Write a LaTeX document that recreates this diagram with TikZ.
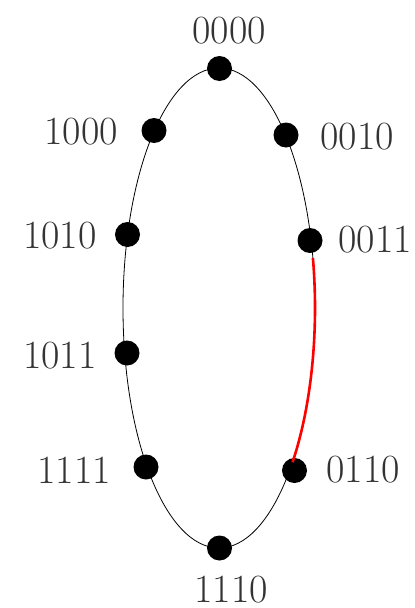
\documentclass[tikz,border=0pt]{standalone}
\usetikzlibrary{calc}
\begin{document}
\begin{tikzpicture}[x=1pt,y=-1pt,
  dot/.style={circle,fill=black,inner sep=0pt,minimum size=25pt},
  lab/.style={text=black!80,font=\fontsize{40}{42}\selectfont,inner sep=0pt}]
\useasboundingbox (0,0) rectangle (415,608);
\draw[line width=0.8pt] (219,308) ellipse [x radius=96, y radius=240];
\node[dot] (a) at (219.5,68.5) {};
\node[dot] (b) at (286,135) {};
\node[dot] (c) at (310,240.5) {};
\node[dot] (d) at (294.5,470.5) {};
\node[dot] (e) at (219.5,548) {};
\node[dot] (f) at (146,467) {};
\node[dot] (g) at (127,353) {};
\node[dot] (h) at (127.5,234.5) {};
\node[dot] (i) at (154,130.5) {};
\draw[red,line width=2.6pt] ($(219,308)+(-12:96 and 240)$) arc [start angle=-12, end angle=40, x radius=96, y radius=240];
\node[lab] (la) at (229,31) {0000};
\node[lab] (lb) at (357,137) {0010};
\node[lab] (lc) at (375,240) {0011};
\node[lab] (ld) at (363,470) {0110};
\node[lab] (le) at (231,590) {1110};
\node[lab] (lf) at (74,470) {1111};
\node[lab] (lg) at (60,356) {1011};
\node[lab] (lh) at (60,236) {1010};
\node[lab] (li) at (81,132) {1000};
\end{tikzpicture}
\end{document}
